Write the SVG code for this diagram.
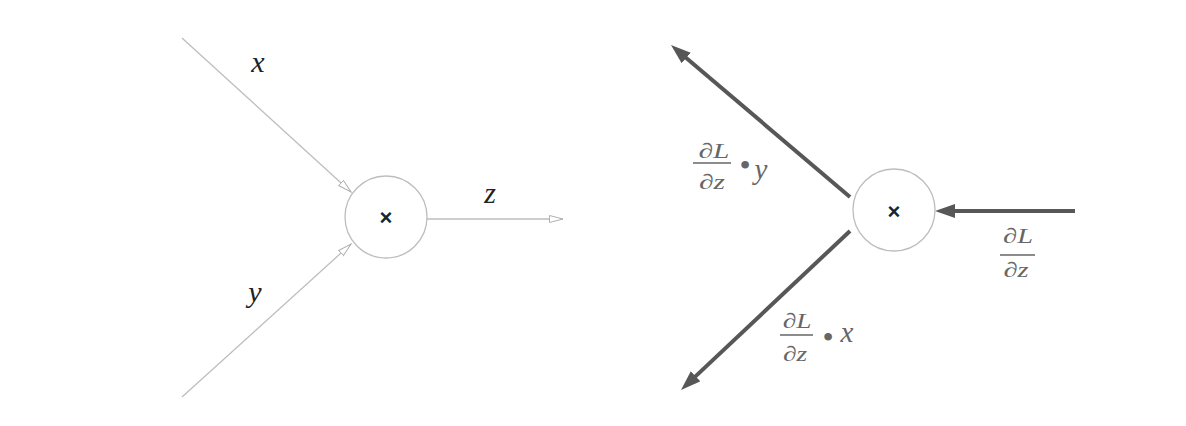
<svg xmlns="http://www.w3.org/2000/svg" width="1186" height="426" viewBox="0 0 1186 426">
<defs>
<style>
.thin{stroke:#bdbdbd;stroke-width:1.3;fill:none}
.thick{stroke:#575757;stroke-width:4;fill:none}
.node{fill:#fff;stroke:#bdbdbd;stroke-width:1.3}
.var{font-family:"Liberation Serif",serif;font-style:italic;font-size:30px;fill:#222}
.mul{font-family:"Liberation Sans",sans-serif;font-size:22px;fill:#222;font-weight:bold}
.frac{font-family:"Liberation Serif",serif;font-size:21px;fill:#666}
.sym{font-family:"Liberation Serif",serif;font-style:italic;font-size:29px;fill:#666}
.dot{font-family:"Liberation Serif",serif;font-size:32px;fill:#666}
.it{font-style:italic}
.bar{stroke:#666;stroke-width:1.6}
</style>
<marker id="open" markerUnits="userSpaceOnUse" markerWidth="16" markerHeight="10" refX="14" refY="4" orient="auto">
<path d="M0.5,0.5 L14,4 L0.5,7.5 z" fill="#fff" stroke="#b0b0b0" stroke-width="1"/>
</marker>
<marker id="solid" markerUnits="userSpaceOnUse" markerWidth="22" markerHeight="16" refX="10" refY="7" orient="auto">
<path d="M0,0 L20,7 L0,14 z" fill="#575757"/>
</marker>
</defs>
<rect width="1186" height="426" fill="#fff"/>
<g id="connectors">
<line class="thin" x1="182" y1="38" x2="351" y2="192" marker-end="url(#open)"/>
<line class="thin" x1="182" y1="397" x2="351" y2="244" marker-end="url(#open)"/>
<line class="thin" x1="427" y1="219" x2="563" y2="219" marker-end="url(#open)"/>
<line class="thick" x1="1075" y1="211" x2="945" y2="211" marker-end="url(#solid)"/>
<line class="thick" x1="850" y1="197" x2="678.6" y2="51.5" marker-end="url(#solid)"/>
<line class="thick" x1="850" y1="231" x2="688.3" y2="383.1" marker-end="url(#solid)"/>
</g>
<g id="node-forward">
<circle class="node" cx="386" cy="217" r="41"/>
<text class="mul" x="386" y="225" text-anchor="middle">×</text>
</g>
<g id="node-backward">
<circle class="node" cx="894" cy="210" r="41"/>
<text class="mul" x="894" y="219" text-anchor="middle">×</text>
</g>
<g id="labels">
<text class="var" x="258" y="72" text-anchor="middle">x</text>
<text class="var" x="255" y="302" text-anchor="middle">y</text>
<text class="var" x="490" y="203" text-anchor="middle">z</text>

<text class="frac" transform="translate(714 158) scale(1.4 1)" text-anchor="middle">∂<tspan class="it">L</tspan></text>
<line class="bar" x1="693" y1="163" x2="731" y2="163"/>
<text class="frac" transform="translate(712 189) scale(1.4 1)" text-anchor="middle">∂<tspan class="it">z</tspan></text>
<text class="dot" x="745" y="176" text-anchor="middle">•</text>
<text class="sym" x="761" y="179" text-anchor="middle">y</text>

<text class="frac" transform="translate(797 328) scale(1.3 1)" text-anchor="middle">∂<tspan class="it">L</tspan></text>
<line class="bar" x1="780" y1="335" x2="813" y2="335"/>
<text class="frac" transform="translate(795 361) scale(1.3 1)" text-anchor="middle">∂<tspan class="it">z</tspan></text>
<text class="dot" x="828" y="348" text-anchor="middle">•</text>
<text class="sym" x="847" y="342" text-anchor="middle">x</text>

<text class="frac" transform="translate(1018 243) scale(1.35 1)" text-anchor="middle">∂<tspan class="it">L</tspan></text>
<line class="bar" x1="1000" y1="255" x2="1035" y2="255"/>
<text class="frac" transform="translate(1016 277) scale(1.35 1)" text-anchor="middle">∂<tspan class="it">z</tspan></text>
</g>
</svg>
